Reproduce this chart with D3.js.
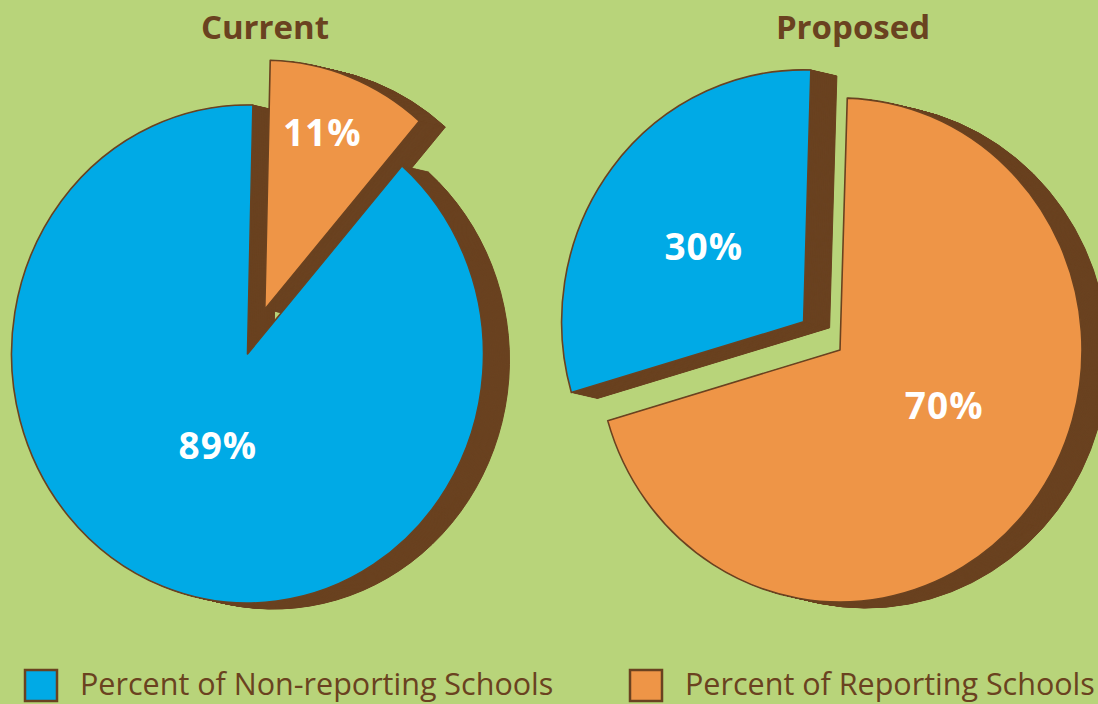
<!DOCTYPE html>
<html>
<head>
<meta charset="utf-8">
<script src="https://cdnjs.cloudflare.com/ajax/libs/d3/7.8.5/d3.min.js"></script>
<style>
  body { margin: 0; background: #b8d47a; }
  svg { display: block; }
</style>
</head>
<body>
<svg width="1098" height="704"></svg>
<script>
// data
var categories = ["Percent of Non-reporting Schools", "Percent of Reporting Schools"];
var pieTitles = ["Current", "Proposed"];
var nonReporting = [89, 30];
var reporting = [11, 70];
var explodedCategory = ["Percent of Reporting Schools", "Percent of Non-reporting Schools"];

// colours
var bg = "#b8d47a",
    brown = "#6a4220",
    color = d3.scaleOrdinal()
      .domain(categories)
      .range(["#00aae6", "#ee9547"]);

// layout per pie (screen px)
var layout = [
  { cx: 247.5, cy: 354, rx: 236, ry: 249, tilt: 0.023, explode: 48, titleX: 265,
    label: { "Percent of Non-reporting Schools": [198, 96], "Percent of Reporting Schools": [18, 186] } },
  { cx: 840, cy: 350, rx: 242, ry: 252, tilt: 0.03, explode: 46, titleX: 853,
    label: { "Percent of Non-reporting Schools": [307, 125], "Percent of Reporting Schools": [118, 118] } }
];
var depth = { dx: 26, dy: 6, steps: 40 };

var svg = d3.select("svg"),
    width = +svg.attr("width"),
    height = +svg.attr("height");

svg.append("rect")
    .attr("width", width)
    .attr("height", height)
    .attr("fill", bg);

var pie = d3.pie()
    .sort(null)
    .value(function(d) { return d.value; });

pieTitles.forEach(function(title, i) {
  var L = layout[i];
  // reporting slice first, clockwise from 12 o'clock
  var rows = [
    { key: categories[1], value: reporting[i] },
    { key: categories[0], value: nonReporting[i] }
  ];
  var slices = pie.startAngle(L.tilt).endAngle(L.tilt + 2 * Math.PI)(rows);

  var arc = d3.arc().innerRadius(0).outerRadius(L.ry);

  slices.forEach(function(s) {
    var mid = (s.startAngle + s.endAngle) / 2;
    var d = s.data.key == explodedCategory[i] ? L.explode : 0;
    s.ox = L.cx + Math.sin(mid) * d;
    s.oy = L.cy - Math.cos(mid) * d;
  });

  var g = svg.append("g").attr("class", "pie");

  // extrusion (drawn below all faces)
  var shadow = g.append("g").attr("class", "shadow");
  slices.forEach(function(s) {
    for (var k = depth.steps; k >= 1; k--) {
      var t = k / depth.steps;
      shadow.append("path")
          .attr("d", arc(s))
          .attr("transform", "translate(" + (s.ox + depth.dx * t) + "," + (s.oy + depth.dy * t) + ") scale(" + (L.rx / L.ry) + ",1)")
          .attr("fill", brown)
          .attr("stroke", brown)
          .attr("stroke-width", 1)
          .attr("vector-effect", "non-scaling-stroke");
    }
  });

  // faces
  g.append("g").attr("class", "faces")
    .selectAll("path")
    .data(slices)
    .enter().append("path")
      .attr("d", arc)
      .attr("transform", function(s) { return "translate(" + s.ox + "," + s.oy + ") scale(" + (L.rx / L.ry) + ",1)"; })
      .attr("fill", function(s) { return color(s.data.key); })
      .attr("stroke", brown)
      .attr("stroke-width", 1.6)
      .attr("stroke-linejoin", "round")
      .attr("vector-effect", "non-scaling-stroke");

  // percent labels
  g.append("g").attr("class", "labels")
    .selectAll("text")
    .data(slices)
    .enter().append("text")
      .attr("x", function(s) { var p = L.label[s.data.key]; return s.ox + Math.sin(p[0] * Math.PI / 180) * p[1]; })
      .attr("y", function(s) { var p = L.label[s.data.key]; return s.oy - Math.cos(p[0] * Math.PI / 180) * p[1]; })
      .attr("dy", "0.36em")
      .attr("text-anchor", "middle")
      .attr("fill", "#fff")
      .style("font-family", "'Open Sans', sans-serif")
      .style("font-weight", "700")
      .style("font-size", "37px")
      .style("letter-spacing", "1px")
      .text(function(s) { return s.data.value + "%"; });

  // title
  svg.append("text")
      .attr("x", L.titleX)
      .attr("y", 39)
      .attr("text-anchor", "middle")
      .attr("fill", brown)
      .style("font-family", "'Open Sans', sans-serif")
      .style("font-weight", "700")
      .style("font-size", "33px")
      .text(title);
});

// legend
var legendX = [25, 630];
var legend = svg.append("g").attr("class", "legend")
  .selectAll("g")
  .data(categories)
  .enter().append("g")
    .attr("transform", function(d, i) { return "translate(" + legendX[i] + ",670)"; });

legend.append("rect")
    .attr("width", 32)
    .attr("height", 31)
    .attr("fill", function(d) { return color(d); })
    .attr("stroke", brown)
    .attr("stroke-width", 2.5);

legend.append("text")
    .attr("x", 55)
    .attr("y", 25)
    .attr("fill", brown)
    .style("font-family", "'Open Sans', sans-serif")
    .style("font-size", "30.5px")
    .text(function(d) { return d; });
</script>
</body>
</html>
